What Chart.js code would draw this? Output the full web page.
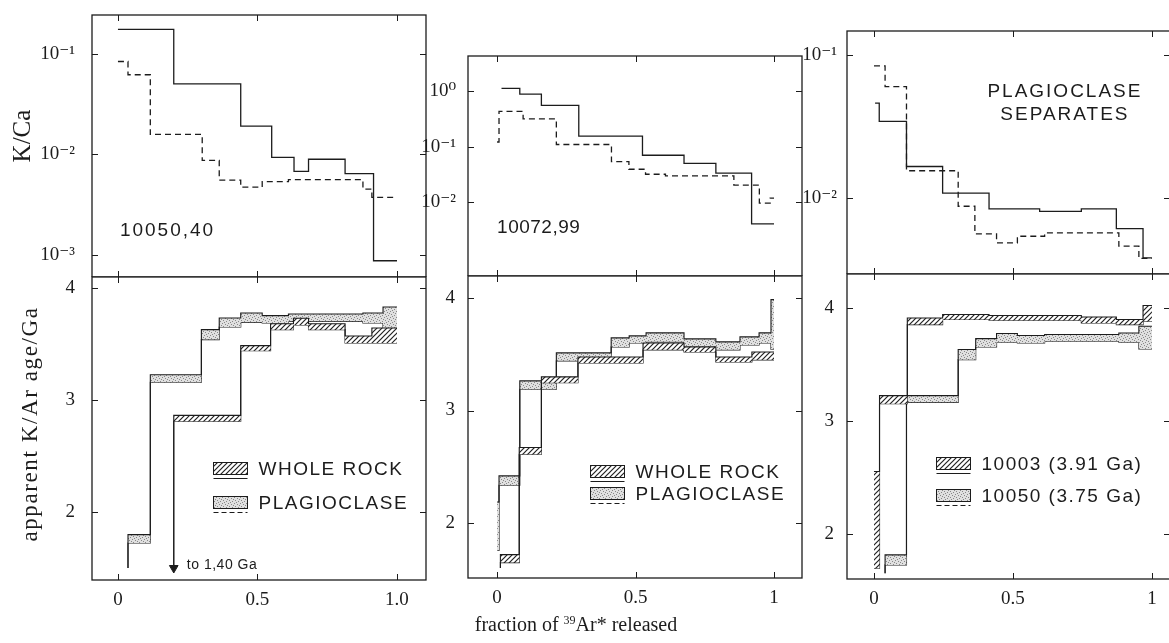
<!DOCTYPE html>
<html lang="en">
<head>
<meta charset="UTF-8">
<title>K/Ca and apparent K/Ar age spectra</title>
<script src="https://cdn.jsdelivr.net/npm/chart.js"></script>
<style>
  html, body { margin: 0; padding: 0; background: #fff; overflow: hidden; }
  body { width: 1169px; height: 643px; position: relative; }
  canvas { position: absolute; }
  .ytitle { position: absolute; white-space: nowrap; color: #1c1c1c;
            font-family: "Liberation Serif", "DejaVu Serif", serif;
            transform: translate(-50%, -50%) rotate(-90deg); }
  .xtitle { position: absolute; left: 0; width: 1152px; top: 613px; text-align: center; color: #1c1c1c;
            font: 20px "Liberation Serif", "DejaVu Serif", serif; }
  .xtitle sup { font-size: 12px; vertical-align: 7px; line-height: 0; }
</style>
</head>
<body>
<canvas id="c1t"></canvas>
<canvas id="c1b"></canvas>
<canvas id="c2t"></canvas>
<canvas id="c2b"></canvas>
<canvas id="c3t"></canvas>
<canvas id="c3b"></canvas>
<div class="ytitle" style="left:22px; top:136px; font-size:25px;">K/Ca</div>
<div class="ytitle" style="left:30px; top:424px; font-size:23px; letter-spacing:1.6px;">apparent K/Ar age/Ga</div>
<div class="xtitle">fraction of <sup>39</sup>Ar* released</div>

<script>
    // ---- 10050,40 : K/Ca (solid = whole rock, dashed = plagioclase)
    const p1SolidX = [0, 0.2, 0.44, 0.551, 0.631, 0.683, 0.814, 0.916, 1.0];
    const p1Solid  = [0.174, 0.0499, 0.019, 0.00927, 0.00675, 0.0089, 0.0064, 0.00087];
    const p1DashX  = [0, 0.036, 0.116, 0.302, 0.363, 0.44, 0.517, 0.611, 0.878, 0.91, 1.0];
    const p1Dash   = [0.0834, 0.0616, 0.0157, 0.00867, 0.00551, 0.0047, 0.00534, 0.00558, 0.00449, 0.00372];
    // ---- 10050,40 : apparent ages (Ga)
    const p1RockX  = [0.2, 0.44, 0.547, 0.629, 0.683, 0.814, 0.91, 1.0];
    const p1RockLo = [2.81, 3.44, 3.628, 3.67, 3.628, 3.509, 3.509];
    const p1RockHi = [2.863, 3.485, 3.68, 3.73, 3.68, 3.571, 3.643];
    const p1RockFrom = 1.5;          // first step is off scale: to 1,40 Ga
    const p1PlagX  = [0.036, 0.116, 0.299, 0.363, 0.44, 0.517, 0.611, 0.754, 0.878, 0.95, 1.0];
    const p1PlagLo = [1.723, 3.158, 3.539, 3.652, 3.693, 3.688, 3.702, 3.702, 3.688, 3.643];
    const p1PlagHi = [1.798, 3.226, 3.628, 3.732, 3.777, 3.753, 3.768, 3.768, 3.777, 3.83];
    const p1PlagFrom = 1.5;

    // ---- 10072,99
    const p2SolidX = [0.016, 0.082, 0.16, 0.295, 0.525, 0.675, 0.79, 0.919, 1.0];
    const p2Solid  = [1.11, 0.873, 0.548, 0.154, 0.070, 0.0498, 0.0335, 0.00411];
    const p2DashX  = [0, 0.007, 0.094, 0.214, 0.413, 0.476, 0.536, 0.608, 0.855, 0.947, 0.986, 1.0];
    const p2Dash   = [0.121, 0.428, 0.313, 0.109, 0.0537, 0.0392, 0.0319, 0.0298, 0.0204, 0.0097, 0.0119];
    const p2RockX  = [0.012, 0.08, 0.16, 0.292, 0.527, 0.675, 0.79, 0.92, 1.0];
    const p2RockLo = [1.649, 2.612, 3.246, 3.423, 3.539, 3.52, 3.432, 3.45];
    const p2RockHi = [1.72, 2.672, 3.299, 3.476, 3.6, 3.565, 3.476, 3.52];
    const p2RockFrom = 1.6;
    const p2PlagX  = [0, 0.007, 0.082, 0.214, 0.412, 0.477, 0.538, 0.61, 0.675, 0.79, 0.877, 0.946, 0.989, 1.0];
    const p2PlagLo = [1.756, 2.336, 3.189, 3.441, 3.565, 3.6, 3.61, 3.61, 3.565, 3.539, 3.583, 3.6, 3.545];
    const p2PlagHi = [2.187, 2.419, 3.263, 3.512, 3.645, 3.663, 3.69, 3.69, 3.636, 3.61, 3.654, 3.69, 3.985];

    // ---- plagioclase separates (solid = 10003, dashed = 10050)
    const p3SolidX = [0.004, 0.019, 0.117, 0.247, 0.414, 0.596, 0.746, 0.872, 0.968, 1.0];
    const p3Solid  = [0.046, 0.0343, 0.0166, 0.0108, 0.00838, 0.00807, 0.00838, 0.00611, 0.00381];
    const p3DashX  = [0, 0.04, 0.117, 0.303, 0.363, 0.441, 0.516, 0.614, 0.881, 0.953, 1.0];
    const p3Dash   = [0.0838, 0.0601, 0.0155, 0.00875, 0.0056, 0.00485, 0.0054, 0.0057, 0.0046, 0.00378];
    const p3RockX  = [0, 0.02, 0.12, 0.247, 0.414, 0.596, 0.746, 0.872, 0.968, 1.0];
    const p3RockLo = [1.696, 3.152, 3.852, 3.897, 3.891, 3.891, 3.867, 3.852, 3.882];
    const p3RockHi = [2.552, 3.223, 3.911, 3.941, 3.932, 3.932, 3.92, 3.897, 4.021];
    const p3PlagX  = [0.04, 0.117, 0.303, 0.366, 0.441, 0.516, 0.614, 0.758, 0.881, 0.953, 1.0];
    const p3PlagLo = [1.725, 3.164, 3.542, 3.654, 3.696, 3.69, 3.705, 3.705, 3.696, 3.637];
    const p3PlagHi = [1.814, 3.223, 3.631, 3.728, 3.773, 3.755, 3.764, 3.764, 3.778, 3.838];
    const p3PlagFrom = 1.65;

    // ---- axes
    const xTicks = [0, 0.5, 1];
    const xLabels1 = ['0', '0.5', '1.0'];
    const xLabels23 = ['0', '0.5', '1'];
    const ageTicks = [2, 3, 4];
    const kca1Ticks = [0.1, 0.01, 0.001];
    const kca1Labels = ['10⁻¹', '10⁻²', '10⁻³'];
    const kca2Ticks = [1, 0.1, 0.01];
    const kca2Labels = ['10⁰', '10⁻¹', '10⁻²'];
    const kca3Ticks = [0.1, 0.01];
    const kca3Labels = ['10⁻¹', '10⁻²'];

    const ink = '#1c1c1c';
    const serif = '"Liberation Serif", "DejaVu Serif", serif';
    const sans = '"Liberation Sans", "DejaVu Sans", sans-serif';

    function makeHatch() {
        const c = document.createElement('canvas');
        c.width = 5; c.height = 5;
        const g = c.getContext('2d');
        g.fillStyle = '#fff'; g.fillRect(0, 0, 5, 5);
        g.strokeStyle = '#222'; g.lineWidth = 1.2;
        g.beginPath();
        g.moveTo(-1, 6); g.lineTo(6, -1);
        g.moveTo(-1, 1); g.lineTo(1, -1);
        g.moveTo(4, 6); g.lineTo(6, 4);
        g.stroke();
        return g.createPattern(c, 'repeat');
    }
    function makeDots() {
        const c = document.createElement('canvas');
        c.width = 6; c.height = 6;
        const g = c.getContext('2d');
        g.fillStyle = '#e0e0e0'; g.fillRect(0, 0, 6, 6);
        g.fillStyle = '#888';
        [[0, 0], [3, 1], [1, 3], [4, 4], [2, 5], [5, 2]].forEach(([a, b]) => g.fillRect(a, b, 1, 1));
        return g.createPattern(c, 'repeat');
    }
    const fills = { hatch: makeHatch(), dots: makeDots() };

    // step points: value i holds from edges[i] to edges[i+1]
    function steps(edges, vals, from) {
        const pts = [];
        if (from !== undefined) pts.push({ x: edges[0], y: from });
        vals.forEach((v, i) => pts.push({ x: edges[i], y: v }));
        pts.push({ x: edges[edges.length - 1], y: vals[vals.length - 1] });
        return pts;
    }
    function stepLine(edges, vals, dashed) {
        return { data: steps(edges, vals), stepped: 'before', fill: false,
                 borderColor: ink, borderWidth: 1.3, borderDash: dashed ? [6, 4] : [] };
    }
    function boxes(edges, lo, hi, pattern, from) {
        return [
            { data: steps(edges, hi, from), stepped: 'before', fill: '+1', backgroundColor: fills[pattern],
              borderColor: ink, borderWidth: 1.1 },
            { data: steps(edges, lo, from), stepped: 'before', fill: false, borderColor: ink, borderWidth: 1.1 }
        ];
    }

    // frame with inward ticks on every side
    const framePlugin = {
        id: 'frame',
        afterDraw(chart, args, opts) {
            const { ctx, chartArea: a, scales: { x, y } } = chart;
            ctx.save();
            ctx.strokeStyle = ink;
            ctx.lineWidth = 1.3;
            ctx.strokeRect(a.left, a.top, a.right - a.left, a.bottom - a.top);
            ctx.lineWidth = 1;
            ctx.beginPath();
            opts.xTicks.forEach(v => {
                const px = Math.round(x.getPixelForValue(v)) + 0.5;
                ctx.moveTo(px, a.top); ctx.lineTo(px, a.top + 6);
                ctx.moveTo(px, a.bottom); ctx.lineTo(px, a.bottom - 6);
            });
            opts.yTicks.forEach(v => {
                const py = Math.round(y.getPixelForValue(v)) + 0.5;
                ctx.moveTo(a.left, py); ctx.lineTo(a.left + 6, py);
                ctx.moveTo(a.right, py); ctx.lineTo(a.right - 6, py);
            });
            ctx.stroke();
            ctx.restore();
        }
    };

    // sample labels, legends, arrow note
    const notesPlugin = {
        id: 'notes',
        afterDatasetsDraw(chart, args, opts) {
            const { ctx, scales: { x, y } } = chart;
            ctx.save();
            ctx.fillStyle = ink;
            ctx.textBaseline = 'middle';
            (opts.texts || []).forEach(t => {
                ctx.font = t.font;
                ctx.letterSpacing = t.spacing || '0px';
                ctx.textAlign = t.align || 'left';
                ctx.fillText(t.text, x.getPixelForValue(t.x), y.getPixelForValue(t.y));
            });
            const lg = opts.legend;
            if (lg) {
                const x0 = Math.round(x.getPixelForValue(lg.x)) + 0.5;
                const y0 = Math.round(y.getPixelForValue(lg.y)) + 0.5;
                lg.rows.forEach((row, i) => {
                    const top = y0 + i * lg.gap;
                    ctx.fillStyle = fills[row.fill];
                    ctx.fillRect(x0, top, 34, 12);
                    ctx.strokeStyle = ink;
                    ctx.lineWidth = 1;
                    ctx.setLineDash([]);
                    ctx.strokeRect(x0, top, 34, 12);
                    ctx.setLineDash(row.dash ? [5, 3] : []);
                    ctx.beginPath();
                    ctx.moveTo(x0, top + 16); ctx.lineTo(x0 + 34, top + 16);
                    ctx.stroke();
                    ctx.setLineDash([]);
                    ctx.fillStyle = ink;
                    ctx.font = '19px ' + sans;
                    ctx.letterSpacing = '1.5px';
                    ctx.textAlign = 'left';
                    ctx.fillText(row.text, x0 + 45, top + 7);
                });
            }
            ctx.restore();
        }
    };

    // no extra room for first/last tick labels: the box is set by the layout
    function noPad(s) {
        s.paddingTop = 0; s.paddingBottom = 0; s.paddingLeft = 0; s.paddingRight = 0;
    }

    function panel(id, layout, axes, datasets, notes) {
        const padT = 2, padR = 3;
        const axisH = axes.xLabels ? 34 : 0;
        const [l, t, r, b] = layout.box;
        const cv = document.getElementById(id);
        cv.width = layout.axisW + (r - l) + padR;
        cv.height = padT + (b - t) + axisH;
        cv.style.left = (l - layout.axisW) + 'px';
        cv.style.top = (t - padT) + 'px';
        const tickFont = { family: serif, size: 19 };
        return new Chart(cv, {
            type: 'line',
            data: { datasets },
            options: {
                responsive: false,
                animation: false,
                devicePixelRatio: 1,
                layout: { autoPadding: false, padding: { top: padT, right: padR, left: 0, bottom: 0 } },
                elements: { point: { radius: 0, hoverRadius: 0 }, line: { tension: 0 } },
                events: [],
                plugins: {
                    legend: { display: false },
                    tooltip: { enabled: false },
                    frame: { xTicks: xTicks, yTicks: axes.yTicks },
                    notes: notes
                },
                scales: {
                    x: {
                        type: 'linear', min: axes.xMin, max: axes.xMax,
                        display: !!axes.xLabels,
                        grid: { display: false }, border: { display: false },
                        afterBuildTicks: s => { s.ticks = xTicks.map(v => ({ value: v })); },
                        afterFit: s => { s.height = axisH; noPad(s); },
                        ticks: { font: tickFont, color: ink, padding: 1, maxRotation: 0, autoSkip: false,
                                 callback: (v, i) => axes.xLabels ? axes.xLabels[i] : '' }
                    },
                    y: {
                        type: axes.log ? 'logarithmic' : 'linear', min: axes.yMin, max: axes.yMax,
                        grid: { display: false }, border: { display: false },
                        afterBuildTicks: s => { s.ticks = axes.yTicks.map(v => ({ value: v })); },
                        afterFit: s => { s.width = layout.axisW; noPad(s); },
                        ticks: { font: tickFont, color: ink, padding: layout.tickPad, autoSkip: false,
                                 callback: (v, i) => axes.yLabels[i] }
                    }
                }
            },
            plugins: [framePlugin, notesPlugin]
        });
    }

    // ---- left column: 10050,40
    panel('c1t', { box: [92, 15, 426, 277], axisW: 92, tickPad: 9 },
        { xMin: -0.093, xMax: 1.104, log: true, yMin: 6.35e-4, yMax: 0.242, yTicks: kca1Ticks, yLabels: kca1Labels },
        [stepLine(p1SolidX, p1Solid, false), stepLine(p1DashX, p1Dash, true)],
        { texts: [{ text: '10050,40', x: 0.007, y: 0.00172, font: '19px ' + sans, spacing: '2px' }] });

    panel('c1b', { box: [92, 277, 426, 580], axisW: 92, tickPad: 9 },
        { xMin: -0.093, xMax: 1.104, yMin: 1.393, yMax: 4.098, yTicks: ageTicks, yLabels: ageTicks.map(String), xLabels: xLabels1 },
        [...boxes(p1RockX, p1RockLo, p1RockHi, 'hatch', p1RockFrom),
         ...boxes(p1PlagX, p1PlagLo, p1PlagHi, 'dots', p1PlagFrom),
         { data: [{ x: p1RockX[0], y: p1RockFrom }], showLine: false, pointStyle: 'triangle', rotation: 180,
           pointRadius: 5, backgroundColor: ink, borderColor: ink }],
        { texts: [{ text: 'to 1,40 Ga', x: 0.247, y: 1.527, font: '14px ' + sans, spacing: '0.5px' }],
          legend: { x: 0.34, y: 2.446, gap: 34, rows: [
              { fill: 'hatch', dash: false, text: 'WHOLE ROCK' },
              { fill: 'dots', dash: true, text: 'PLAGIOCLASE' }] } });

    // ---- middle column: 10072,99
    panel('c2t', { box: [468, 56, 802, 276], axisW: 60, tickPad: 4 },
        { xMin: -0.105, xMax: 1.101, log: true, yMin: 4.77e-4, yMax: 4.22, yTicks: kca2Ticks, yLabels: kca2Labels },
        [stepLine(p2SolidX, p2Solid, false), stepLine(p2DashX, p2Dash, true)],
        { texts: [{ text: '10072,99', x: 0.0, y: 0.00343, font: '19px ' + sans, spacing: '0.5px' }] });

    panel('c2b', { box: [468, 276, 802, 578], axisW: 60, tickPad: 5 },
        { xMin: -0.105, xMax: 1.101, yMin: 1.512, yMax: 4.195, yTicks: ageTicks, yLabels: ageTicks.map(String), xLabels: xLabels23 },
        [...boxes(p2RockX, p2RockLo, p2RockHi, 'hatch', p2RockFrom),
         ...boxes(p2PlagX, p2PlagLo, p2PlagHi, 'dots')],
        { legend: { x: 0.336, y: 2.518, gap: 22, rows: [
              { fill: 'hatch', dash: false, text: 'WHOLE ROCK' },
              { fill: 'dots', dash: true, text: 'PLAGIOCLASE' }] } });

    // ---- right column: plagioclase separates
    panel('c3t', { box: [847, 31, 1170, 274], axisW: 60, tickPad: 2 },
        { xMin: -0.097, xMax: 1.065, log: true, yMin: 0.00294, yMax: 0.147, yTicks: kca3Ticks, yLabels: kca3Labels },
        [stepLine(p3SolidX, p3Solid, false), stepLine(p3DashX, p3Dash, true)],
        { texts: [
            { text: 'PLAGIOCLASE', x: 0.687, y: 0.0551, font: '19px ' + sans, spacing: '2px', align: 'center' },
            { text: 'SEPARATES', x: 0.687, y: 0.038, font: '19px ' + sans, spacing: '2px', align: 'center' }] });

    panel('c3b', { box: [847, 274, 1170, 579], axisW: 60, tickPad: 5 },
        { xMin: -0.097, xMax: 1.065, yMin: 1.6, yMax: 4.30, yTicks: ageTicks, yLabels: ageTicks.map(String), xLabels: xLabels23 },
        [...boxes(p3RockX, p3RockLo, p3RockHi, 'hatch'),
         ...boxes(p3PlagX, p3PlagLo, p3PlagHi, 'dots', p3PlagFrom)],
        { legend: { x: 0.223, y: 2.681, gap: 32, rows: [
              { fill: 'hatch', dash: false, text: '10003 (3.91 Ga)' },
              { fill: 'dots', dash: true, text: '10050 (3.75 Ga)' }] } });
</script>
</body>
</html>
